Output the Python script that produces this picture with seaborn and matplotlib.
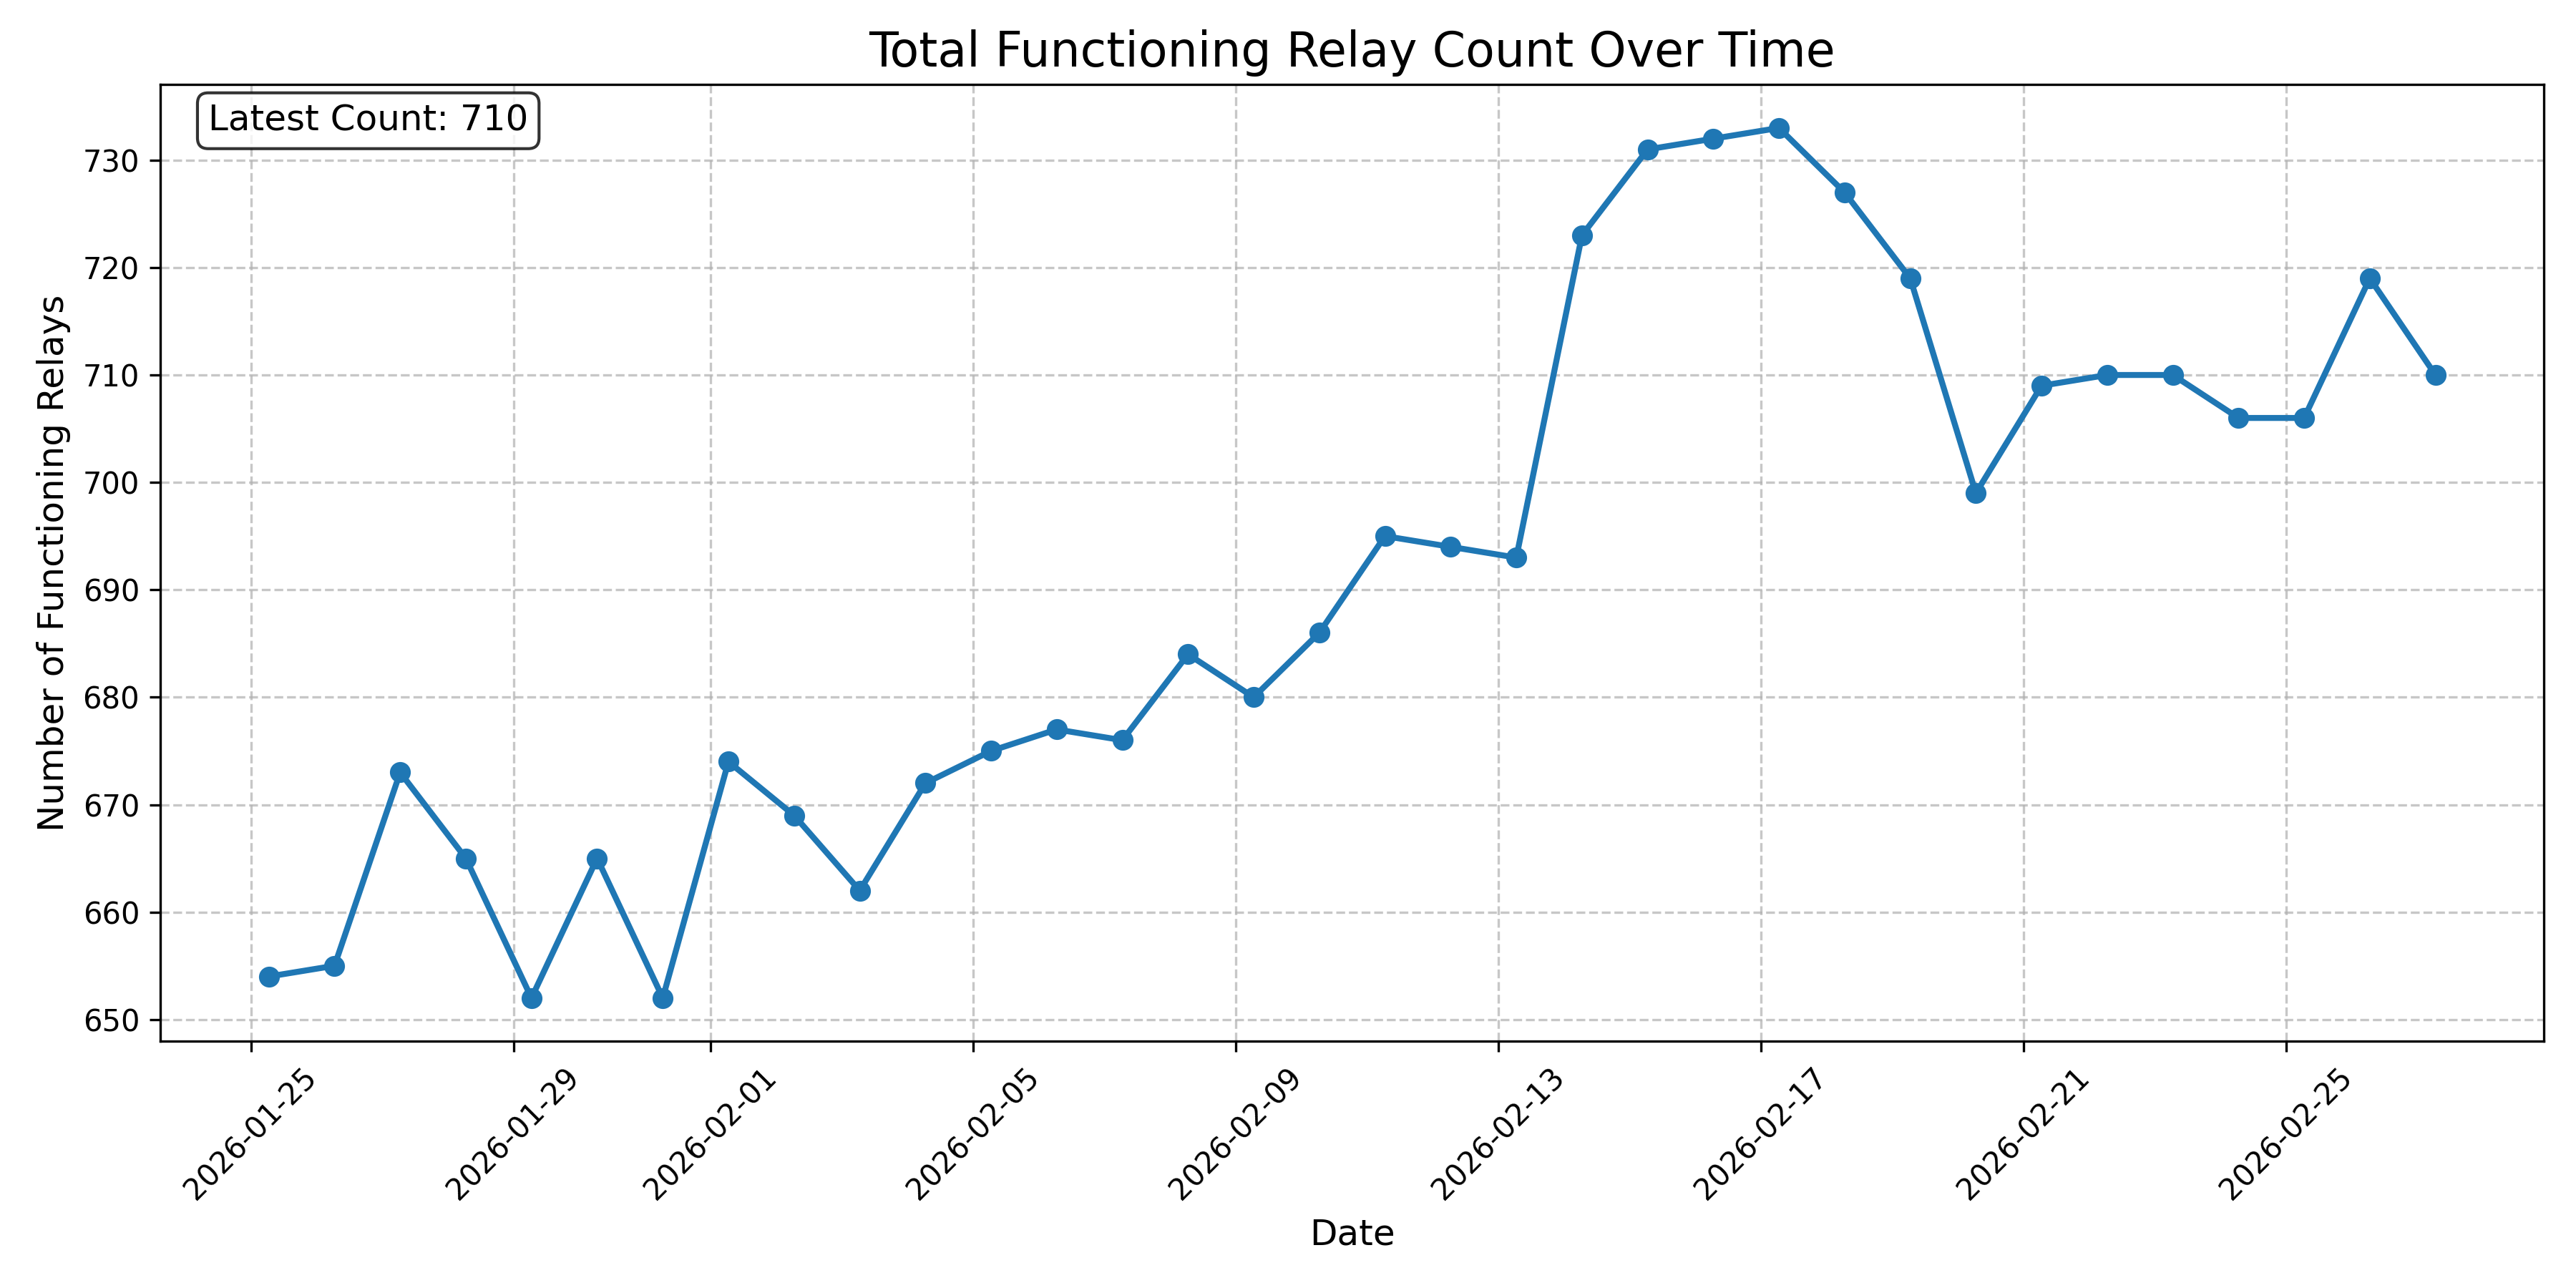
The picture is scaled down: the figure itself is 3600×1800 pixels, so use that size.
import pandas as pd
import seaborn as sns
import matplotlib.pyplot as plt

# relay counts, one reading per day
start = '2026-01-25 06:30'
counts = [654, 655, 673, 665, 652, 665, 652, 674, 669, 662,
          672, 675, 677, 676, 684, 680, 686, 695, 694, 693,
          723, 731, 732, 733, 727, 719, 699, 709, 710, 710,
          706, 706, 719, 710]

df = pd.DataFrame({
    'date': pd.date_range(start, periods=len(counts), freq='D'),
    'count': counts,
})

line_color = '#1f77b4'

fig, ax = plt.subplots(figsize=(12, 6))
sns.lineplot(data=df, x='date', y='count', marker='o', markersize=6,
             markeredgewidth=1, markeredgecolor=line_color,
             linewidth=2, color=line_color, ax=ax)

ax.set_title('Total Functioning Relay Count Over Time', fontsize=16)
ax.set_xlabel('Date', fontsize=12)
ax.set_ylabel('Number of Functioning Relays', fontsize=12)
ax.grid(True, linestyle='--', alpha=0.7)
plt.xticks(rotation=45)

# latest value in the corner
ax.text(0.02, 0.98, f'Latest Count: {counts[-1]}', transform=ax.transAxes,
        fontsize=12, verticalalignment='top',
        bbox=dict(boxstyle='round', facecolor='white', alpha=0.8))

plt.tight_layout()
plt.savefig('out.png', dpi=300)
